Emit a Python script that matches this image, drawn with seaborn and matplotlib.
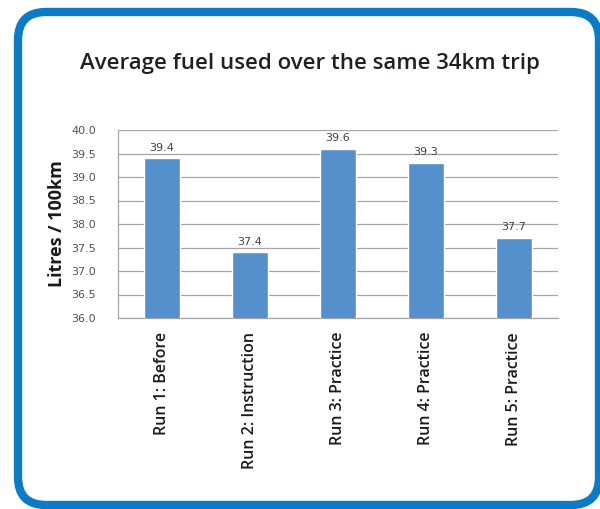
import matplotlib
matplotlib.use("Agg")
import matplotlib.pyplot as plt
import seaborn as sns
import pandas as pd
from matplotlib.patches import FancyBboxPatch
from matplotlib.transforms import Affine2D

runs = ["Run 1: Before", "Run 2: Instruction", "Run 3: Practice",
        "Run 4: Practice", "Run 5: Practice"]
litres = [39.4, 37.4, 39.6, 39.3, 37.7]
yticks = [36.0, 36.5, 37.0, 37.5, 38.0, 38.5, 39.0, 39.5, 40.0]

sns.set_style("white")
plt.rcParams["font.family"] = ["Open Sans", "DejaVu Sans"]

W, H = 600, 509
fig = plt.figure(figsize=(W / 100, H / 100), dpi=100)
fig.patch.set_facecolor("white")

# rounded blue frame around the whole panel, given in pixels
px = Affine2D().scale(1 / 100) + fig.dpi_scale_trans
frame = FancyBboxPatch((18, 4), 581, 493,
                       boxstyle="round,pad=0,rounding_size=28",
                       transform=px, facecolor="none",
                       edgecolor="#0a7bc4", linewidth=6, zorder=5)
fig.add_artist(frame)

ax = fig.add_axes([118 / W, 1 - 318 / H, 440 / W, 188 / H])
ax.set_facecolor("white")

df = pd.DataFrame({"run": runs, "litres": litres})
sns.barplot(data=df, x="run", y="litres", color="#5590cc", saturation=1,
            width=0.4, ax=ax, zorder=3)

ax.set_ylim(36.0, 40.0)
ax.set_yticks(yticks)
ax.set_yticklabels([f"{t:.1f}" for t in yticks], color="#505050",
                   fontsize=8, family="DejaVu Sans")
ax.yaxis.grid(True, color="#a6a6a6", linewidth=0.9, zorder=0)
ax.set_axisbelow(True)

for i, v in enumerate(litres):
    ax.text(i, v + 0.12, f"{v:.1f}", ha="center", va="bottom",
            fontsize=8, color="#404040", family="DejaVu Sans", zorder=4)

ax.set_xticks(range(len(runs)))
ax.set_xticklabels(runs, rotation=90, fontsize=11.5, fontweight="semibold",
                   color="#1a1a1a")
ax.tick_params(axis="x", length=0, pad=10)
ax.tick_params(axis="y", length=0, pad=16)
ax.set_xlabel("")
ax.set_ylabel("Litres / 100km", fontsize=13, fontweight="bold",
              color="#1a1a1a")
ax.yaxis.set_label_coords(-0.118, 0.5)

for side in ["top", "right"]:
    ax.spines[side].set_visible(False)
for side in ["left", "bottom"]:
    ax.spines[side].set_color("#a6a6a6")
    ax.spines[side].set_linewidth(0.9)

fig.text(310 / W, 1 - 64 / H, "Average fuel used over the same 34km trip",
         ha="center", va="center", fontsize=16, fontweight="semibold",
         color="#231f20")

fig.savefig("out.png", dpi=100, facecolor="white")
